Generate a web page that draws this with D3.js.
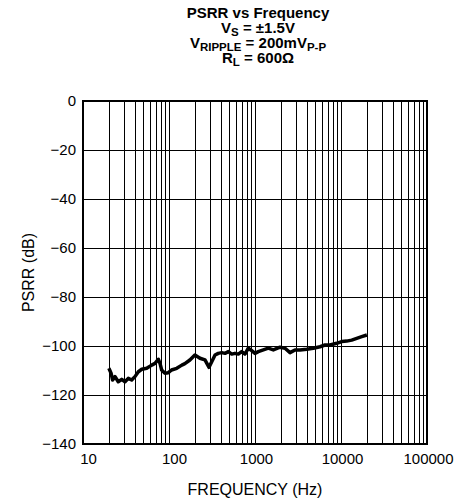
<html lang="en">
<head>
<meta charset="UTF-8">
<title>PSRR vs Frequency</title>
<script src="https://d3js.org/d3.v7.min.js"></script>
<style>
  body { margin: 0; background: #fff; }
  text { font-family: "Liberation Sans", Arial, sans-serif; fill: #000; }
</style>
</head>
<body>
<script>
// chart data
const freqHz = [20, 21.2, 22.1, 23.6, 25.7, 28.2, 30.8, 33.6, 36.8, 40.2, 44, 48.2, 55, 63, 68.7, 75.1, 78.6, 82.2, 89.8, 98.2,
  107, 123, 141, 153, 175, 200, 229, 262, 292, 314, 343, 374, 410, 448, 490, 536, 585, 640, 700, 765, 836, 916,
  1000, 1092, 1250, 1428, 1633, 1954, 2234, 2553, 2918, 3336, 3990, 4764, 5700, 6515, 7447, 8913,
  10190, 11650, 13320, 15230, 17410, 20000];
const psrrDb = [-109.1, -111.1, -113.9, -112.5, -114.6, -113.6, -114.6, -113.2, -113.9, -112.5, -110.5, -109.5, -109.1, -107.8, -107.1, -105.4, -107.1, -109.8, -111.1, -110.9,
  -109.8, -109.1, -107.8, -107.2, -105.7, -103.7, -105, -105.7, -108.7, -106.4, -103.7, -103, -102.7, -103, -102.3, -103.3, -103, -103.3, -102.3, -103.3, -100.9, -101.9,
  -103, -102.3, -101.6, -100.9, -101.6, -100.5, -100.9, -102.7, -101.6, -101.6, -101.3, -100.9, -100.3, -99.6, -99.6, -98.9,
  -98.2, -98, -97.6, -96.9, -96.2, -95.5];
const xTicks = [10, 100, 1000, 10000, 100000];
const yTicks = [0, -20, -40, -60, -80, -100, -120, -140];

const w = 464, h = 501;
const mLeft = 83, mRight = 427, mTop = 101, mBottom = 444;

const svg = d3.select("body").append("svg")
  .attr("width", w).attr("height", h);

const x = d3.scaleLog().domain([10, 100000]).range([mLeft, mRight]);
const y = d3.scaleLinear().domain([-140, 0]).range([mBottom, mTop]);

// vertical grid: 1..9 per decade
const minor = [];
for (let d = 10; d < 100000; d *= 10) {
  for (let k = 1; k <= 9; k++) minor.push(d * k);
}
svg.append("g").selectAll("line").data(minor).join("line")
  .attr("x1", d => Math.round(x(d)) + 0.5).attr("x2", d => Math.round(x(d)) + 0.5)
  .attr("y1", mTop).attr("y2", mBottom)
  .attr("stroke", "#000").attr("stroke-width", 1);

// horizontal grid
svg.append("g").selectAll("line").data(yTicks).join("line")
  .attr("x1", mLeft).attr("x2", mRight)
  .attr("y1", d => Math.round(y(d)) + 0.5).attr("y2", d => Math.round(y(d)) + 0.5)
  .attr("stroke", "#000").attr("stroke-width", 1);

// frame
svg.append("rect")
  .attr("x", mLeft).attr("y", mTop)
  .attr("width", mRight - mLeft).attr("height", mBottom - mTop)
  .attr("fill", "none").attr("stroke", "#000").attr("stroke-width", 2);

// axes labels
const xAxis = d3.axisBottom(x).tickValues(xTicks).tickFormat(d3.format("d")).tickSize(0).tickPadding(9);
const gx = svg.append("g").attr("transform", `translate(0,${mBottom})`).call(xAxis)
  .call(g => g.select(".domain").remove());
gx.selectAll("text").attr("font-size", 15).attr("font-family", "Liberation Sans, Arial, sans-serif").attr("fill", "#000")
  .attr("dx", d => d < 1000 ? 5 : 1);

const yAxis = d3.axisLeft(y).tickValues(yTicks).tickSize(0).tickPadding(7);
svg.append("g").attr("transform", `translate(${mLeft},0)`).call(yAxis)
  .call(g => g.select(".domain").remove())
  .selectAll("text").attr("font-size", 15).attr("font-family", "Liberation Sans, Arial, sans-serif").attr("fill", "#000");

svg.append("text")
  .attr("x", (mLeft + mRight) / 2).attr("y", 495)
  .attr("text-anchor", "middle").attr("font-size", 16)
  .text("FREQUENCY (Hz)");

svg.append("text")
  .attr("transform", `translate(34,${(mTop + mBottom) / 2}) rotate(-90)`)
  .attr("text-anchor", "middle").attr("font-size", 16)
  .text("PSRR (dB)");

// curve
const pts = freqHz.map((f, i) => [f, psrrDb[i]]);
svg.append("path")
  .datum(pts)
  .attr("fill", "none").attr("stroke", "#000").attr("stroke-width", 3.5)
  .attr("stroke-linejoin", "round")
  .attr("d", d3.line().x(d => x(d[0])).y(d => y(d[1])));

// title
const cx = (mLeft + mRight) / 2 + 3;
const title = svg.append("g").attr("font-weight", "bold").attr("text-anchor", "middle");
title.append("text").attr("x", cx).attr("y", 18).attr("font-size", 15).text("PSRR vs Frequency");

const sub = (t, parts, yy) => {
  const el = t.append("text").attr("x", cx).attr("y", yy).attr("font-size", 15);
  parts.forEach(p => {
    const s = el.append("tspan").text(p[0]);
    if (p[1]) s.attr("font-size", 11.5).attr("dy", 3);
    else if (p[2]) s.attr("dy", -3);
  });
};
sub(title, [["V"], ["S", true], [" = \u00b11.5V", false, true]], 33);
sub(title, [["V"], ["RIPPLE", true], [" = 200mV", false, true], ["P-P", true]], 48);
sub(title, [["R"], ["L", true], [" = 600\u03a9", false, true]], 63);
</script>
</body>
</html>
